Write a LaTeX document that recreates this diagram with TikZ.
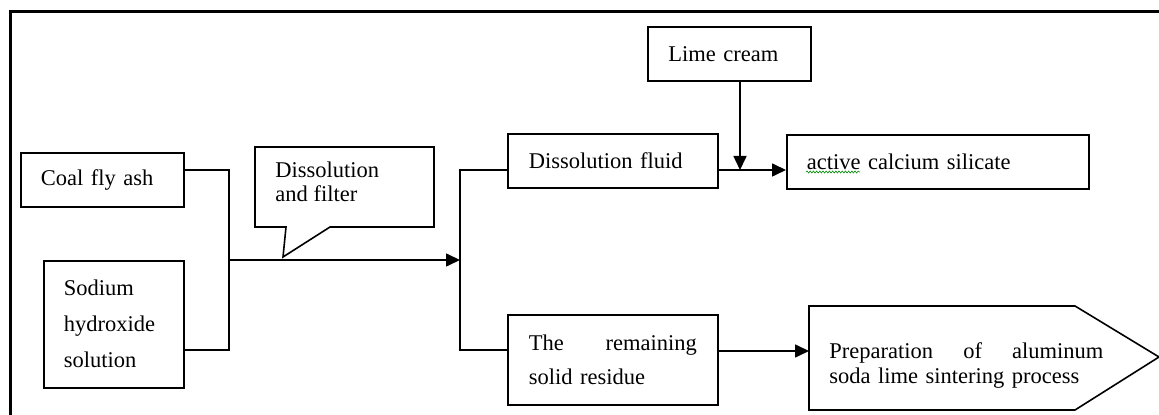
\documentclass[tikz,border=0pt]{standalone}
\usepackage{fontspec}
\setmainfont{Liberation Serif}
\usetikzlibrary{arrows.meta,decorations.pathmorphing}
\tikzset{
  base/.style={font=\fontsize{11.25}{13}\selectfont},
  box/.style={base,draw,line width=0.8pt,anchor=north west,inner ysep=0pt,align=left},
  conn/.style={line width=0.8pt},
  arr/.style={conn,-{Triangle[length=7pt,width=6.5pt]}},
  frame/.style={line width=1.5pt}
}
\begin{document}
\begin{tikzpicture}[x=0.5pt,y=-0.5pt]
\clip (0,0) rectangle (1159,415);
\fill[white] (0,0) rectangle (1159,415);
\draw[frame] (10,12) rectangle (1175,440);
% boxes
\node[box,inner xsep=10pt,text width=61.5pt,minimum height=27pt] (coal) at (20,152) {Coal fly ash};
\node[box,inner xsep=10pt,text width=50pt,minimum height=63.5pt,font=\fontsize{11.25}{18}\selectfont] (naoh) at (43,260) {Sodium\\hydroxide\\solution};
\node[box,inner xsep=10.5pt,text width=84pt,minimum height=27pt] (fluid) at (507,133) {Dissolution fluid};
\node[box,inner xsep=10pt,text width=131pt,minimum height=27pt] (active) at (786,134) {active calcium silicate};
\node[box,inner xsep=10.25pt,text width=61pt,minimum height=27pt] (lime) at (647,26) {Lime cream};
\node[box,inner xsep=10.5pt,text width=84pt,minimum height=45pt,font=\fontsize{11.25}{17}\selectfont] (resid) at (507,314) {The\hfill remaining\\solid residue};
% callout
\draw[line width=0.8pt,fill=white] (255,147) -- (434,147) -- (434,227) -- (330,227) -- (283,257) -- (286,227) -- (255,227) -- cycle;
\node[base,anchor=north west,inner sep=0pt,align=left,font=\fontsize{11.25}{12}\selectfont] (callout) at (275,161) {Dissolution\\and filter};
% pentagon
\draw[line width=0.8pt] (809,306) -- (1075,306) -- (1159,357) -- (1075,410) -- (809,410) -- cycle;
\coordinate (pent) at (809,351);
\node[base,anchor=north west,inner sep=0pt,text width=137pt,align=left,font=\fontsize{11.25}{12.5}\selectfont] (prep) at (829,342) {Preparation\hfill of\hfill aluminum\\soda lime sintering process};
% wavy underline
\draw[green!55!black,line width=0.3pt,decorate,decoration={snake,amplitude=0.5pt,segment length=1.6pt}] (806,172) -- (860,172);
% connectors
\coordinate (j1) at (229,260);
\coordinate (j2) at (460,260);
\coordinate (mix) at (740,170);
\draw[conn] (coal.east |- 0,170) -| (j1);
\draw[conn] (naoh.east |- 0,350) -| (j1);
\draw[arr] (j1) -- (j2);
\draw[conn] (fluid.west |- 0,170) -| (460,350) -- (resid.west |- 0,350);
\draw[arr] (fluid.east |- mix) -- (active.west |- mix);
\draw[arr] (lime.south -| mix) -- (mix);
\draw[arr] (resid.east |- pent) -- (pent);
\end{tikzpicture}
\end{document}
